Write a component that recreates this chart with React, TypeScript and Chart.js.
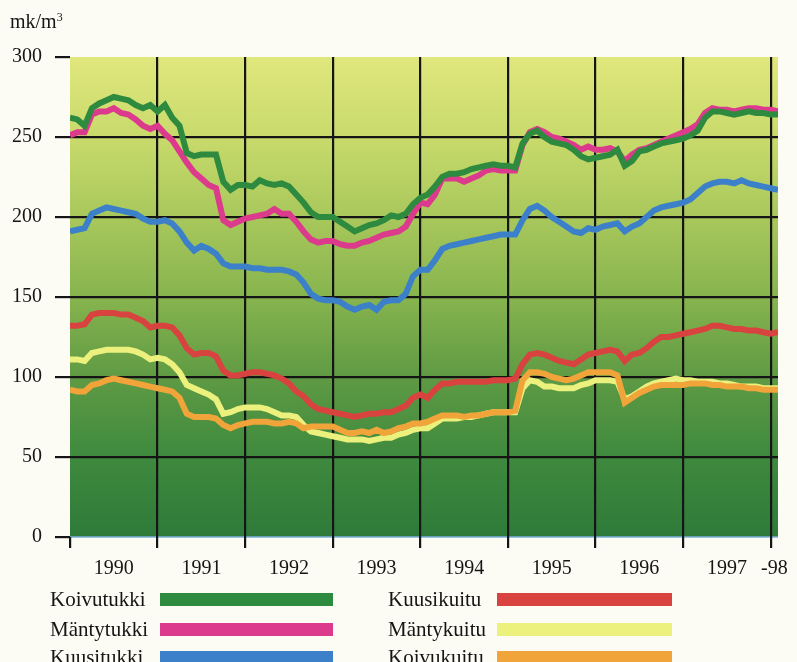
import React, { useEffect, useRef } from "react";
import { Chart, registerables } from "chart.js";

Chart.register(...registerables);

// months since Jan 1990 (0..97)
const koivutukki = [262,261,257,268,271,273,275,274,273,270,268,270,266,270,262,257,240,238,239,239,239,222,217,220,220,219,223,221,220,221,219,214,209,203,200,200,200,197,194,191,193,195,196,198,201,200,202,208,212,214,219,225,227,227,228,230,231,232,233,232,232,231,246,252,254,250,247,246,245,242,238,236,237,238,239,242,232,235,241,242,244,246,247,248,249,251,254,262,266,266,265,264,265,266,265,265,264,264];
const mantytukki = [251,253,253,264,266,266,268,265,264,261,257,255,257,252,248,241,234,228,224,220,218,198,195,197,199,200,201,202,205,202,202,197,191,186,184,185,185,183,182,182,184,185,187,189,190,191,194,202,209,208,214,224,224,224,222,224,226,229,230,229,229,229,245,253,255,253,250,249,247,245,242,244,242,242,243,241,235,239,242,243,245,247,249,251,253,255,258,265,268,267,267,266,267,268,268,267,267,266];
const kuusitukki = [191,192,193,202,204,206,205,204,203,202,199,197,197,198,196,191,184,179,182,180,177,171,169,169,169,168,168,167,167,167,166,164,159,152,149,148,148,147,144,142,144,145,142,147,148,148,152,163,167,167,173,180,182,183,184,185,186,187,188,189,189,189,198,205,207,204,200,197,194,191,190,193,192,194,195,196,191,194,196,200,204,206,207,208,209,211,215,219,221,222,222,221,223,221,220,219,218,217];
const kuusikuitu = [132,132,133,139,140,140,140,139,139,137,135,131,132,132,131,126,118,114,115,115,113,104,101,101,102,103,103,102,101,99,96,91,88,83,80,79,78,77,76,75,76,77,77,78,78,80,82,87,89,87,92,96,96,97,97,97,97,97,98,98,98,99,108,114,115,114,112,110,109,108,111,114,115,116,117,116,110,114,115,118,122,125,125,126,127,128,129,130,132,132,131,130,130,129,129,128,127,128];
const mantykuitu = [111,111,110,115,116,117,117,117,117,116,114,111,112,111,108,103,95,93,91,89,86,77,78,80,81,81,81,80,78,76,76,75,70,66,65,64,63,62,61,61,61,60,61,62,62,64,65,67,68,68,71,74,74,74,75,75,76,77,78,78,78,78,93,98,97,94,94,93,93,93,95,96,98,98,98,97,86,88,91,94,96,97,98,99,98,98,97,97,97,96,96,95,94,94,94,93,93,93];
const koivukuitu = [92,91,91,95,96,98,99,98,97,96,95,94,93,92,91,87,77,75,75,75,74,70,68,70,71,72,72,72,71,71,72,71,68,69,69,69,69,67,65,65,66,65,67,65,66,68,69,71,71,72,74,76,76,76,75,76,76,77,78,78,78,79,98,103,103,102,100,99,98,99,101,103,103,103,103,101,84,87,90,92,94,95,95,95,95,96,96,96,95,95,94,94,94,93,93,92,92,92];

const seriesNames = ["Koivutukki", "Mäntytukki", "Kuusitukki", "Kuusikuitu", "Mäntykuitu", "Koivukuitu"];
const seriesColors = ["#2e8a3f", "#dc3a8c", "#3b80c9", "#d9433f", "#ecf07c", "#f0a43a"];
const yearBoundaries = [0, 12, 24, 36, 48, 60, 72, 84, 96];
const yearLabelPositions = [6, 18, 30, 42, 54, 66, 78, 90, 96.5];
const yearLabels = ["1990", "1991", "1992", "1993", "1994", "1995", "1996", "1997", "-98"];
const yTicks = [0, 50, 100, 150, 200, 250, 300];

const SERIF = "'Liberation Serif', 'Times New Roman', serif";

const bgPlugin = {
  id: "plotBg",
  beforeDraw(chart: any) {
    const { ctx, chartArea } = chart;
    if (!chartArea) return;
    const { left, top, right, bottom } = chartArea;
    const g = ctx.createLinearGradient(0, top, 0, bottom);
    g.addColorStop(0, "#e0e77c");
    g.addColorStop(0.17, "#c8da6b");
    g.addColorStop(0.33, "#a9c85c");
    g.addColorStop(0.5, "#87b44e");
    g.addColorStop(0.67, "#5e9a44");
    g.addColorStop(0.83, "#3f8a3e");
    g.addColorStop(1, "#2e7a39");
    ctx.save();
    ctx.fillStyle = g;
    ctx.fillRect(left, top, right - left, bottom - top);
    ctx.strokeStyle = "#7ab0dc";
    ctx.lineWidth = 1.5;
    ctx.beginPath();
    ctx.moveTo(left, bottom);
    ctx.lineTo(right, bottom);
    ctx.stroke();
    ctx.restore();
  },
};

const seriesData = [koivutukki, mantytukki, kuusitukki, kuusikuitu, mantykuitu, koivukuitu];

export default function App() {
  const ref = useRef<HTMLCanvasElement>(null);
  useEffect(() => {
    if (!ref.current) return;
    const chart = new Chart(ref.current, {
      type: "line",
      data: {
        datasets: seriesData.map((arr, i) => ({
          label: seriesNames[i],
          data: arr.map((v, m) => ({ x: m, y: v })),
          borderColor: seriesColors[i],
          backgroundColor: seriesColors[i],
          borderWidth: 6,
          pointRadius: 0,
          tension: 0,
          fill: false,
          order: i === 4 ? 7 : i,
        })),
      },
      options: {
        responsive: false,
        animation: false,
        devicePixelRatio: 1,
        layout: { padding: { top: 57, left: 0, right: 19, bottom: 74 } },
        plugins: { legend: { display: false }, tooltip: { enabled: false } },
        scales: {
          x: {
            type: "linear",
            position: "bottom",
            weight: 0,
            min: 0,
            max: 97,
            afterBuildTicks: (s: any) => {
              s.ticks = yearBoundaries.map((v) => ({ value: v }));
            },
            afterFit: (s: any) => {
              s.height = 11;
            },
            ticks: { display: false },
            border: { display: false },
            grid: {
              color: (c: any) => (c.tick && c.tick.value > 0 ? "#151515" : "rgba(0,0,0,0)"),
              tickColor: "#151515",
              lineWidth: 2.2,
              tickLength: 11,
              drawTicks: true,
            },
          },
          x2: {
            type: "linear",
            position: "bottom",
            weight: 1,
            min: 0,
            max: 97,
            afterBuildTicks: (s: any) => {
              s.ticks = yearLabelPositions.map((v) => ({ value: v }));
            },
            afterFit: (s: any) => {
              s.height = 40;
            },
            ticks: {
              autoSkip: false,
              maxRotation: 0,
              padding: 9,
              color: "#151515",
              font: { family: SERIF, size: 20 },
              callback: (_v: any, i: number) => yearLabels[i],
            },
            border: { display: false },
            grid: { display: false, drawTicks: false },
          },
          y: {
            min: 0,
            max: 300,
            afterBuildTicks: (s: any) => {
              s.ticks = yTicks.map((v) => ({ value: v }));
            },
            afterFit: (s: any) => {
              s.width = 70;
            },
            ticks: {
              padding: 13,
              color: "#151515",
              font: { family: SERIF, size: 20 },
            },
            border: { display: false },
            grid: {
              color: (c: any) =>
                c.tick && c.tick.value > 0 && c.tick.value < 300 ? "#151515" : "rgba(0,0,0,0)",
              tickColor: "#151515",
              lineWidth: 2.2,
              tickLength: 15,
            },
          },
        },
      },
      plugins: [bgPlugin],
    } as any);
    return () => chart.destroy();
  }, []);

  const textStyle: React.CSSProperties = {
    position: "absolute",
    fontFamily: SERIF,
    fontSize: 21,
    lineHeight: "23px",
    color: "#151515",
    whiteSpace: "nowrap",
  };
  const rowsTop = [588, 618, 646];
  const legend = seriesNames.map((name, i) => {
    const col = i < 3 ? 0 : 1;
    const row = i % 3;
    const textLeft = col === 0 ? 50 : 388;
    const swLeft = col === 0 ? 160 : 497;
    const swWidth = col === 0 ? 173 : 175;
    return (
      <React.Fragment key={name}>
        <div style={{ ...textStyle, left: textLeft, top: rowsTop[row] }}>{name}</div>
        <div
          style={{
            position: "absolute",
            left: swLeft,
            top: rowsTop[row] + 5,
            width: swWidth,
            height: 13,
            background: seriesColors[i],
          }}
        />
      </React.Fragment>
    );
  });

  return (
    <div
      style={{
        position: "absolute",
        left: 0,
        top: 0,
        width: 797,
        height: 662,
        overflow: "hidden",
        background: "#fcfbf4",
      }}
    >
      <canvas ref={ref} width={797} height={662} style={{ position: "absolute", left: 0, top: 0 }} />
      <div style={{ ...textStyle, fontSize: 20, left: 10, top: 10 }}>
        mk/m<sup style={{ fontSize: 12, verticalAlign: "top", position: "relative", top: -4 }}>3</sup>
      </div>
      {legend}
    </div>
  );
}
